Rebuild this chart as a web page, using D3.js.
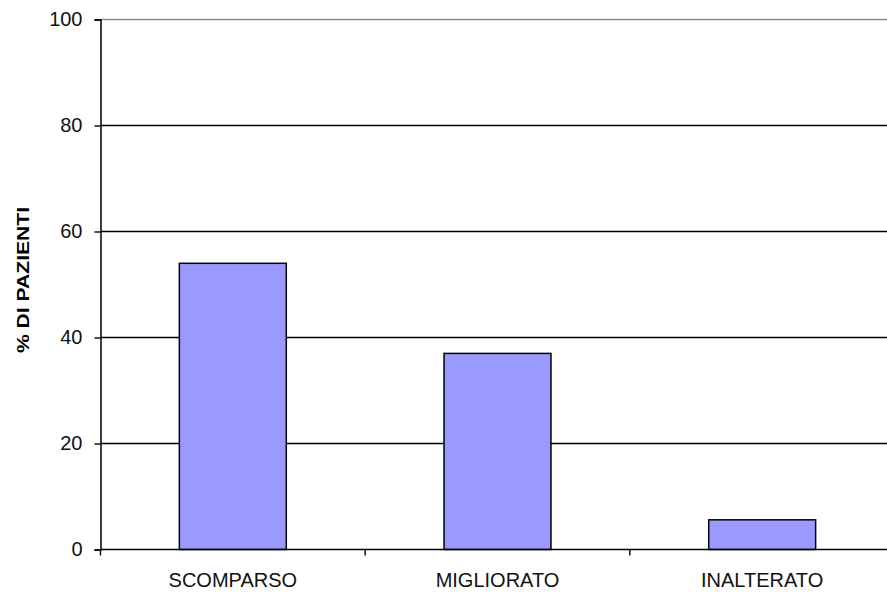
<!DOCTYPE html>
<html>
<head>
<meta charset="utf-8">
<script src="https://cdn.jsdelivr.net/npm/d3@7"></script>
<style>
  html, body { margin: 0; padding: 0; background: #fff; }
  svg { display: block; }
</style>
</head>
<body>
<script>
// Outcome categories and percentage of patients in each
const categories = ["SCOMPARSO", "MIGLIORATO", "INALTERATO"];
const values = [54, 37, 5.6];
const yTicks = [0, 20, 40, 60, 80, 100];
const yTitle = "% DI PAZIENTI";

const W = 887, H = 595;
const plotLeft = 100.5, plotRight = 894.5, plotTop = 19.5, plotBottom = 549.5;

const svg = d3.select("body").append("svg")
  .attr("width", W).attr("height", H);

const x = d3.scaleBand().domain(categories).range([plotLeft, plotRight]).padding(0);
const y = d3.scaleLinear().domain([0, 100]).range([plotBottom, plotTop]);
const barW = x.bandwidth() * 0.404;

// Horizontal gridlines
svg.append("g").selectAll("line").data(yTicks.filter(d => d > 0)).join("line")
  .attr("x1", plotLeft).attr("x2", W)
  .attr("y1", d => y(d)).attr("y2", d => y(d))
  .attr("stroke", d => d === 100 ? "#8a8a8a" : "#000")
  .attr("stroke-width", 1.4);

// Bars
svg.append("g").selectAll("rect").data(categories).join("rect")
  .attr("x", (d) => x(d) + (x.bandwidth() - barW) / 2)
  .attr("width", barW)
  .attr("y", (d, i) => y(values[i]))
  .attr("height", (d, i) => y(0) - y(values[i]))
  .attr("fill", "#9999FF")
  .attr("stroke", "#000")
  .attr("stroke-width", 1.5);

// Y axis
const yAxis = svg.append("g")
  .attr("transform", `translate(${plotLeft},0)`)
  .call(d3.axisLeft(y).tickValues(yTicks).tickSize(6).tickPadding(12));
yAxis.select(".domain").attr("stroke", "#000").attr("stroke-width", 1.5);
yAxis.selectAll(".tick line").attr("stroke", "#000").attr("stroke-width", 1.4);
yAxis.selectAll("text")
  .attr("font-family", "Liberation Sans, Arial, sans-serif")
  .attr("font-size", 20).attr("fill", "#111");

// X axis with ticks between categories
const xAxis = svg.append("g").attr("transform", `translate(0,${plotBottom})`);
xAxis.append("line").attr("x1", plotLeft).attr("x2", W)
  .attr("stroke", "#000").attr("stroke-width", 1.5);
xAxis.selectAll("line.sep").data(categories).join("line")
  .attr("class", "sep")
  .attr("x1", d => x(d)).attr("x2", d => x(d))
  .attr("y1", 0).attr("y2", 6)
  .attr("stroke", "#000").attr("stroke-width", 1.4);
xAxis.selectAll("text").data(categories).join("text")
  .attr("x", d => x(d) + x.bandwidth() / 2)
  .attr("y", 37.5)
  .attr("text-anchor", "middle")
  .attr("font-family", "Liberation Sans, Arial, sans-serif")
  .attr("font-size", 20)
  .attr("fill", "#111")
  .text(d => d);

// Y axis title
svg.append("text")
  .attr("transform", `translate(29,${(207 + 353) / 2}) rotate(-90)`)
  .attr("text-anchor", "middle")
  .attr("font-family", "Liberation Sans, Arial, sans-serif")
  .attr("font-weight", "bold")
  .attr("font-size", 17)
  .attr("textLength", 146)
  .attr("lengthAdjust", "spacingAndGlyphs")
  .text(yTitle);
</script>
</body>
</html>
